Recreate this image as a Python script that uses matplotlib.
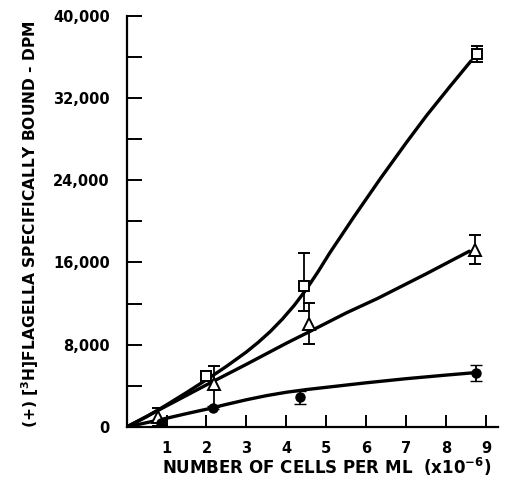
import matplotlib
matplotlib.use("Agg")
import matplotlib.pyplot as plt

# Measured data points (x in cells/ml x1e-6, y in DPM)
sq_x = [2.0, 4.43, 8.77]
sq_y = [4950, 13700, 36300]
sq_err_lo = [500, 2400, 800]
sq_err_hi = [500, 3200, 800]

tri_x = [0.78, 2.2, 4.56, 8.73]
tri_y = [1000, 4150, 10030, 17200]
tri_err_lo = [900, 2200, 2000, 1300]
tri_err_hi = [800, 1800, 2000, 1500]

cir_x = [0.85, 2.17, 4.34, 8.75]
cir_y = [350, 1880, 2900, 5270]
cir_err_lo = [300, 150, 650, 750]
cir_err_hi = [300, 150, 650, 800]

# Fitted curves drawn by hand in the original
sq_fit_x = [0, 0.5, 1, 1.5, 2, 2.5, 3, 3.3, 3.6, 3.9, 4.2, 4.5, 4.8, 5.08, 5.7, 6.35, 7.0, 7.51, 8.1, 8.62]
sq_fit_y = [0, 1000, 2150, 3350, 4600, 5900, 7300, 8250, 9300, 10500, 11850, 13400, 15150, 16900, 20500, 24150, 27650, 30300, 33150, 35600]

tri_fit_x = [0, 1, 2, 3, 4, 4.56, 5.5, 6.28, 7.5, 8.58]
tri_fit_y = [0, 2050, 4100, 6100, 8150, 9240, 11100, 12500, 14900, 17100]

cir_fit_x = [0, 0.5, 1, 1.5, 2.0, 2.5, 3.0, 3.5, 4.0, 4.5, 5.0, 6.0, 7.0, 8.0, 8.67]
cir_fit_y = [0, 420, 850, 1300, 1730, 2200, 2650, 3050, 3380, 3640, 3860, 4300, 4700, 5050, 5270]

x_ticks = [1, 2, 3, 4, 5, 6, 7, 8, 9]
y_major = [0, 8000, 16000, 24000, 32000, 40000]
y_labels = ["0", "8,000", "16,000", "24,000", "32,000", "40,000"]
y_minor = [4000, 12000, 20000, 28000, 36000]

plt.rcParams['font.family'] = ['DejaVu Sans']
plt.rcParams['font.weight'] = 'bold'

fig = plt.figure(figsize=(5.09, 4.82), dpi=100)
ax = fig.add_axes([0.2487, 0.1141, 0.730, 0.8533])

lw = 2.4
ax.plot(sq_fit_x, sq_fit_y, color='black', lw=lw, solid_capstyle='round', solid_joinstyle='round', zorder=2)
ax.plot(tri_fit_x, tri_fit_y, color='black', lw=lw, solid_capstyle='round', solid_joinstyle='round', zorder=2)
ax.plot(cir_fit_x, cir_fit_y, color='black', lw=lw, solid_capstyle='round', solid_joinstyle='round', zorder=2)

ekw = dict(ecolor='black', elinewidth=1.3, capsize=4, capthick=1.3, linestyle='none', zorder=3)
ax.errorbar(sq_x, sq_y, yerr=[sq_err_lo, sq_err_hi], marker='s', ms=7,
            mfc='white', mec='black', mew=1.4, **ekw)
ax.errorbar(tri_x, tri_y, yerr=[tri_err_lo, tri_err_hi], marker='^', ms=9,
            mfc='white', mec='black', mew=1.4, **ekw)
ax.errorbar(cir_x, cir_y, yerr=[cir_err_lo, cir_err_hi], marker='o', ms=6.5,
            mfc='black', mec='black', mew=1.0, **ekw)

ax.set_xlim(0, 9.3)
ax.set_ylim(0, 40000)
ax.spines['top'].set_visible(False)
ax.spines['right'].set_visible(False)
for s in ('left', 'bottom'):
    ax.spines[s].set_linewidth(1.6)

ax.set_xticks(x_ticks)
ax.set_xticklabels([str(v) for v in x_ticks])
ax.set_yticks(y_major)
ax.set_yticklabels(y_labels)
ax.set_yticks(y_minor, minor=True)
ax.tick_params(axis='y', which='major', direction='in', length=11, width=1.4, pad=12, labelsize=10.5)
ax.tick_params(axis='y', which='minor', direction='in', length=11, width=1.4)
ax.tick_params(axis='x', which='major', direction='in', length=9, width=1.4, pad=10, labelsize=10.5)

fig.text(327 / 509, 1 - 467 / 482, r"NUMBER OF CELLS PER ML  (x10$^{\mathbf{-6}}$)",
         fontsize=12, fontweight='bold', ha='center', va='center')
fig.text(30 / 509, 1 - 224 / 482,
         r"(+) $\left[^{\mathbf{3}}\mathbf{H}\right]$FLAGELLA SPECIFICALLY BOUND - DPM",
         fontsize=11.2, fontweight='bold', ha='center', va='center', rotation=90)

fig.savefig("out.png", dpi=100)
